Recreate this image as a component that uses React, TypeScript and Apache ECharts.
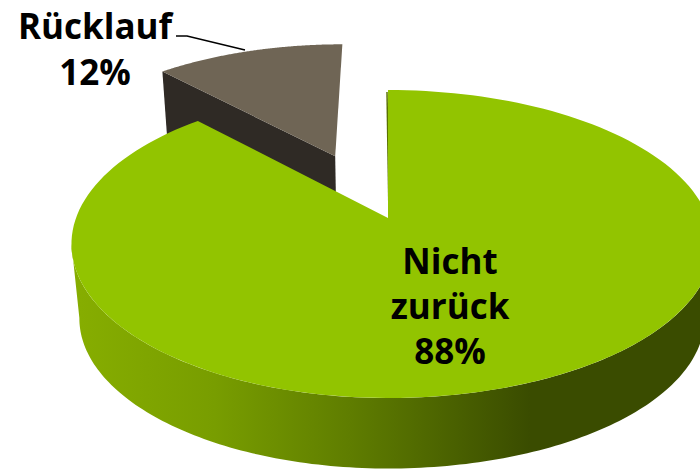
import React, { useEffect, useRef } from "react";
import * as echarts from "echarts";

const categories = ["Rücklauf", "Nicht zurück"];
const shares = [12, 88];

const APEX_X = 388;
const APEX_Y = 218;
const SCALE_X_LEFT = 312;
const SCALE_X_RIGHT = 320;
const SCALE_Y = 149.6;
const PERSPECTIVE = 0.169;
const EXPLODE = 0.478;
const DROP = 75;
const SHRINK = 0.975;
const GREEN = "#92c400";
const GREY = "#6f6555";
const GREY_WALL = "#2f2a25";
const FONT = 'bold 35px "Open Sans", "Lato", sans-serif';

type P = [number, number];

function project(u: number, v: number, lower: boolean): P {
  const w = 1 - PERSPECTIVE * v;
  const x = ((u < 0 ? SCALE_X_LEFT : SCALE_X_RIGHT) * u) / w;
  const y = (SCALE_Y * v) / w;
  return lower
    ? [APEX_X + x * SHRINK, APEX_Y + DROP + y * SHRINK]
    : [APEX_X + x, APEX_Y + y];
}

function rim(a: number, ou: number, ov: number, lower: boolean): P {
  return project(ou + Math.sin(a), ov - Math.cos(a), lower);
}

function arc(a0: number, a1: number, ou: number, ov: number, lower: boolean): P[] {
  const pts: P[] = [];
  const n = 160;
  for (let i = 0; i <= n; i++) {
    pts.push(rim(a0 + ((a1 - a0) * i) / n, ou, ov, lower));
  }
  return pts;
}

function extremes(a0: number, a1: number, lower: boolean): [number, number] {
  let minX = Infinity;
  let maxX = -Infinity;
  let aMin = a0;
  let aMax = a0;
  for (let i = 0; i <= 720; i++) {
    const a = a0 + ((a1 - a0) * i) / 720;
    const [x] = rim(a, 0, 0, lower);
    if (x < minX) { minX = x; aMin = a; }
    if (x > maxX) { maxX = x; aMax = a; }
  }
  return [aMax, aMin];
}

function renderSlice(params: any, api: any) {
  const total = shares.reduce((s, x) => s + x, 0);
  const value = api.value(0);
  const name = categories[params.dataIndex];
  const span = (value / total) * Math.PI * 2;

  if (params.dataIndex === 1) {
    const [rTop, lTop] = extremes(0, Math.min(span, Math.PI * 1.6), false);
    const [rLow, lLow] = extremes(0, Math.min(span, Math.PI * 1.6), true);
    const wall = [...arc(rTop, lTop, 0, 0, false), ...arc(lLow, rLow, 0, 0, true)];
    const apex = project(0, 0, false);
    const edge = rim(0, 0, 0, false);
    return {
      type: "group",
      children: [
        {
          type: "polygon",
          shape: { points: wall },
          style: {
            fill: new echarts.graphic.LinearGradient(
              80, 0, 530, 0,
              [
                { offset: 0, color: "#86ad00" },
                { offset: 0.3, color: "#789d00" },
                { offset: 0.6, color: "#5f7d00" },
                { offset: 1, color: "#3a4c00" },
              ],
              true
            ),
          },
        },
        {
          type: "polyline",
          shape: { points: [[edge[0] - 1, edge[1] + 2], [apex[0] + 1, apex[1]]] },
          style: { stroke: "#5a7200", lineWidth: 1.5, fill: "none" },
        },
        {
          type: "polygon",
          shape: { points: [apex, ...arc(0, span, 0, 0, false)] },
          style: { fill: GREEN },
        },
        ...["Nicht", "zurück", `${value}%`].map((t, i) => ({
          type: "text",
          x: 450,
          y: 260 + i * 45,
          style: {
            text: t,
            font: FONT,
            fill: "#000",
            textAlign: "center",
            textVerticalAlign: "middle",
          },
        })),
      ],
    };
  }

  const start = Math.PI * 2 - span;
  const mid = start + span / 2;
  const ou = EXPLODE * Math.sin(mid) - 0.006;
  const ov = -EXPLODE * Math.cos(mid);
  const apexTop = project(ou, ov, false);
  const apexLow = project(ou, ov, true);
  const leftTop = rim(start, ou, ov, false);
  const leftLow = rim(start, ou, ov, true);
  return {
    type: "group",
    children: [
      {
        type: "polygon",
        shape: { points: [leftTop, apexTop, apexLow, leftLow] },
        style: { fill: GREY_WALL },
      },
      {
        type: "polygon",
        shape: { points: [apexTop, ...arc(start, Math.PI * 2, ou, ov, false)] },
        style: { fill: GREY },
      },
      {
        type: "polyline",
        shape: { points: [[176, 36], [187, 36], [245, 50]] },
        style: { stroke: "#000", lineWidth: 1.5, fill: "none" },
      },
      {
        type: "text",
        x: 95,
        y: 25,
        style: { text: name, font: FONT, fill: "#000", textAlign: "center", textVerticalAlign: "middle" },
      },
      {
        type: "text",
        x: 95,
        y: 71,
        style: { text: `${value}%`, font: FONT, fill: "#000", textAlign: "center", textVerticalAlign: "middle" },
      },
    ],
  };
}

export default function App() {
  const ref = useRef<HTMLDivElement>(null);
  useEffect(() => {
    document.body.style.margin = "0";
    const chart = echarts.init(ref.current!, null, { renderer: "svg" });
    chart.setOption({
      animation: false,
      backgroundColor: "#ffffff",
      series: [
        {
          type: "custom",
          coordinateSystem: "none",
          silent: true,
          renderItem: renderSlice,
          data: shares.map((v) => [v]),
        },
      ],
    });
    return () => chart.dispose();
  }, []);
  return <div ref={ref} style={{ width: 700, height: 469, overflow: "hidden" }} />;
}
